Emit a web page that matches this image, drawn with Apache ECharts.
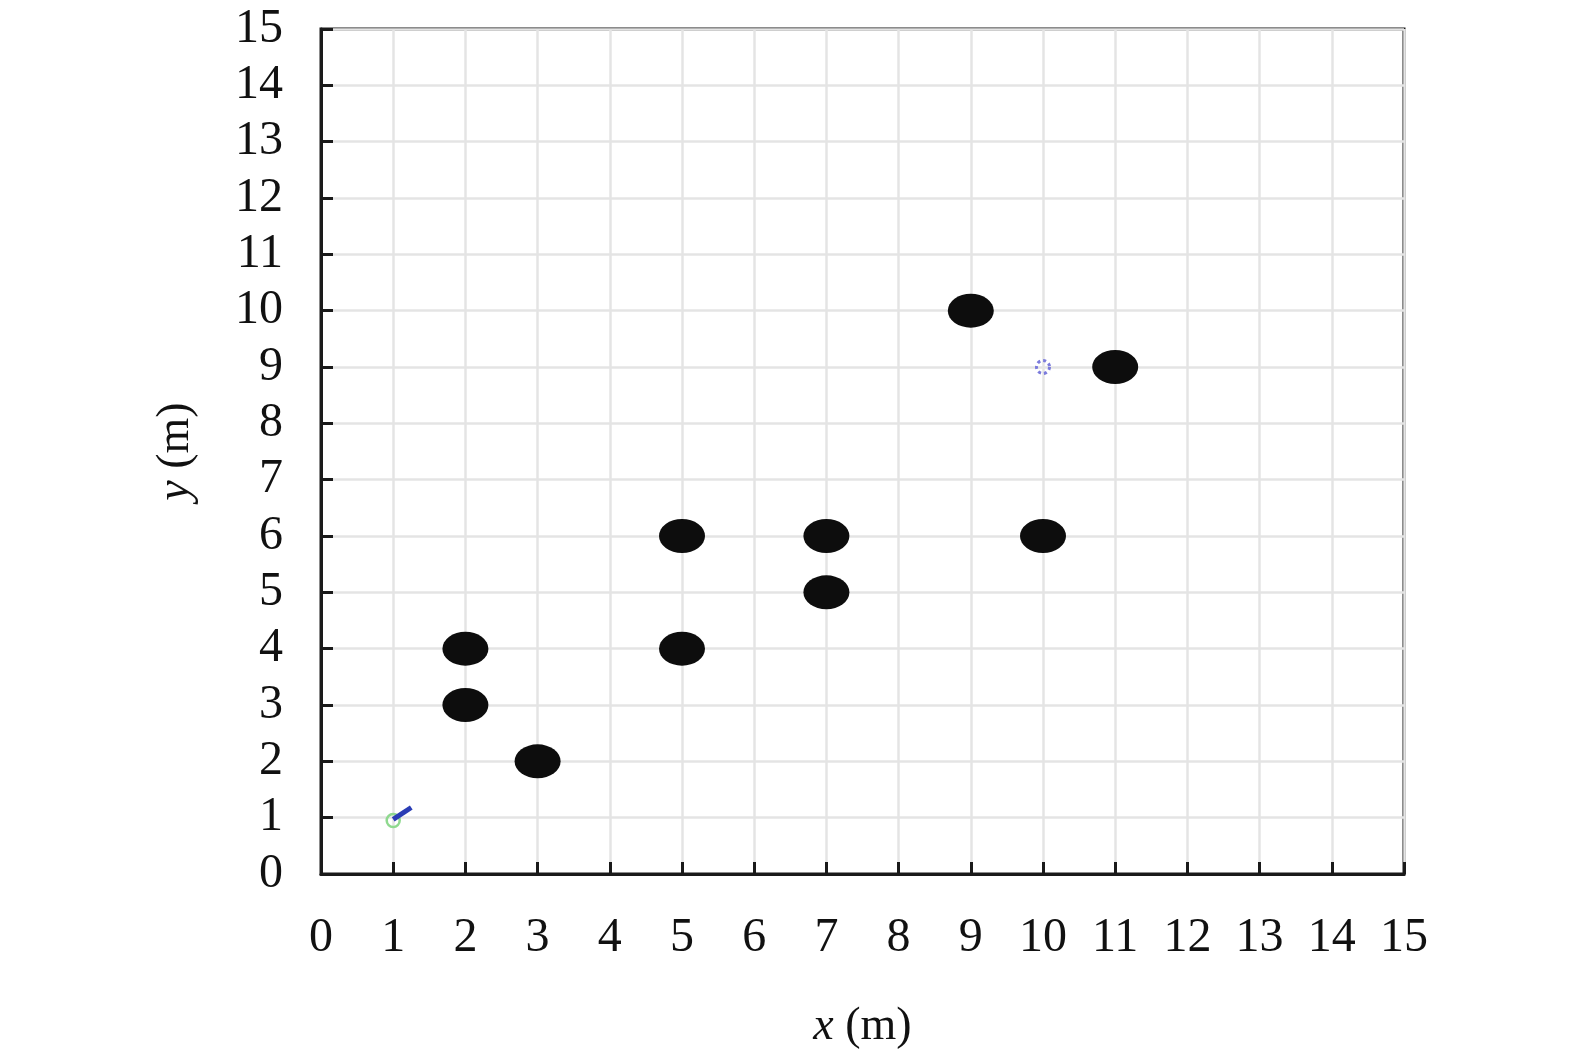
<!DOCTYPE html>
<html>
<head>
<meta charset="utf-8">
<title>map</title>
<script src="https://cdn.jsdelivr.net/npm/echarts@6/dist/echarts.min.js"></script>
<style>
  html, body { margin: 0; padding: 0; background: #fff; }
  #main { width: 1575px; height: 1055px; }
</style>
</head>
<body>
<div id="main"></div>
<script>
// 障碍物坐标
var obsX = [2, 2, 3, 5, 5, 7, 7, 9, 10, 11];
var obsY = [4, 3, 2, 6, 4, 6, 5, 10, 6, 9];
// 起点、路径、终点
var startPt = [1, 0.95];
var pathX = [1.0, 1.25];
var pathY = [0.97, 1.18];
var goalPt = [10, 9];
var ticks = [0, 1, 2, 3, 4, 5, 6, 7, 8, 9, 10, 11, 12, 13, 14, 15];

var obsData = [];
for (var i = 0; i < obsX.length; i++) {
	obsData.push([obsX[i], obsY[i]]);
}
var pathData = [];
for (var j = 0; j < pathX.length; j++) {
	pathData.push([pathX[j], pathY[j]]);
}

var font = '"Liberation Serif", "Times New Roman", serif';

function axisOpt(name, gap) {
	return {
		type : 'value',
		min : ticks[0],
		max : ticks[ticks.length - 1],
		interval : 1,
		name : name,
		nameLocation : 'middle',
		nameGap : gap,
		nameTextStyle : {
			fontFamily : font,
			fontSize : 46,
			color : '#111',
			rich : {
				i : { fontFamily : font, fontSize : 46, fontStyle : 'italic', color : '#111' }
			}
		},
		axisLine : { show : true, lineStyle : { color : '#1a1a1a', width : 3 } },
		axisTick : { show : true, inside : true, length : 12, lineStyle : { color : '#1a1a1a', width : 3 } },
		axisLabel : { fontFamily : font, fontSize : 48, color : '#111' },
		splitLine : { show : true, lineStyle : { color : '#e4e4e4', width : 2.5 } }
	};
}

var xAx = axisOpt('{i|x} (m)', 130);
xAx.axisLabel.margin = 40;
var yAx = axisOpt('{i|y} (m)', 122);
yAx.axisLabel.margin = 38;

var myChart = echarts.init(document.getElementById('main'));
myChart.setOption({
	animation : false,
	grid : {
		left : 321, right : 171, top : 29, bottom : 180,
		show : true, borderColor : '#1a1a1a', borderWidth : 3, backgroundColor : 'transparent'
	},
	xAxis : xAx,
	yAxis : yAx,
	series : [{
		type : 'scatter',
		data : obsData,
		symbol : 'circle',
		symbolSize : [46, 34],
		itemStyle : { color : '#0d0d0d', opacity : 1 }
	}, {
		type : 'scatter',
		data : [startPt],
		symbol : 'circle',
		symbolSize : 13,
		itemStyle : { color : 'transparent', borderColor : '#8fd98f', borderWidth : 2.5, opacity : 1 }
	}, {
		type : 'line',
		data : pathData,
		symbol : 'none',
		lineStyle : { color : '#2a3db5', width : 5 }
	}, {
		type : 'scatter',
		data : [goalPt],
		symbol : 'circle',
		symbolSize : 13,
		itemStyle : { color : 'transparent', borderColor : '#7b7bdc', borderWidth : 3, borderType : 'dotted', opacity : 1 }
	}]
});
</script>
</body>
</html>
